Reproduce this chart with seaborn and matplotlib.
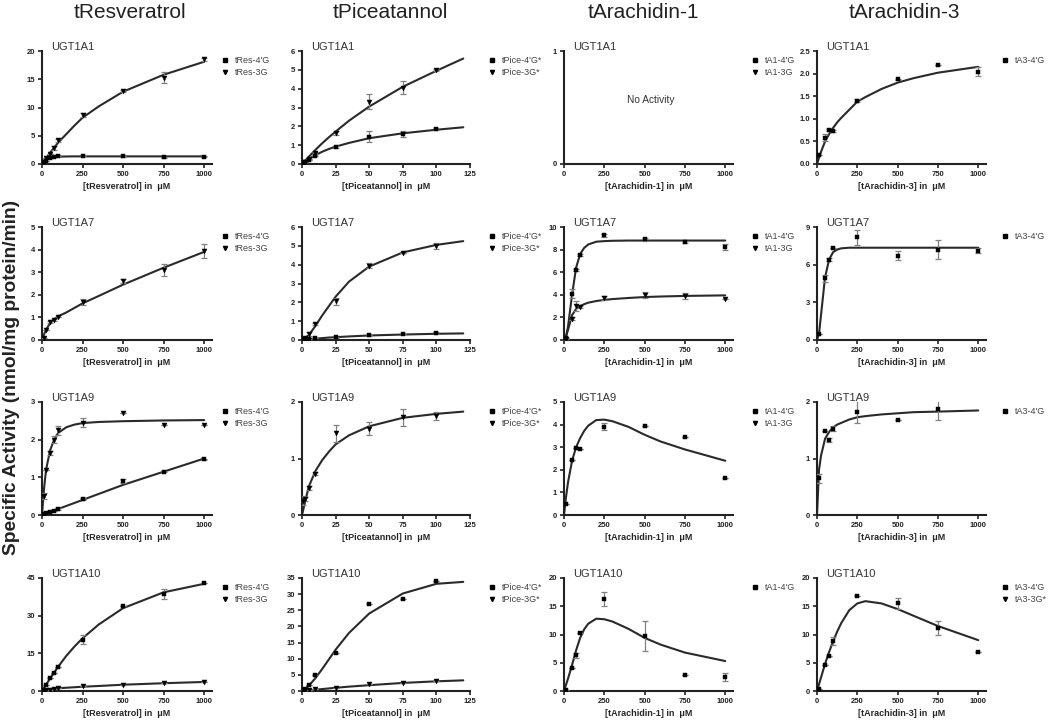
import numpy as np
import seaborn as sns
import matplotlib.pyplot as plt
from matplotlib.lines import Line2D

sns.set_style("ticks")
plt.rcParams['font.family'] = ['Liberation Sans', 'DejaVu Sans']

# substrate concentrations (uM)
res_x = [10, 25, 50, 75, 100, 250, 500, 750, 1000]
pice_x = [1, 2.5, 5, 10, 25, 50, 75, 100]
ara_x = [10, 50, 75, 100, 250, 500, 750, 1000]

res_cx = [0, 12.5, 25, 50, 75, 100, 150, 200, 250, 350, 500, 750, 1000]
pice_cx = [0, 5, 10, 15, 20, 25, 35, 50, 75, 100, 120]
ara_cx = [0, 12.5, 25, 50, 75, 100, 125, 150, 200, 250, 300, 400, 500, 600, 750, 1000]

# ---- tResveratrol ----
res_1a1_4g = [0.3, 0.6, 1.0, 1.3, 1.5, 1.5, 1.4, 1.2, 1.3]
res_1a1_4g_err = [0, 0, 0, 0, 0.1, 0.1, 0.1, 0.1, 0.1]
res_1a1_4g_fit = [0, 0.5, 0.8, 1.1, 1.25, 1.3, 1.33, 1.35, 1.35, 1.35, 1.35, 1.35, 1.35]
res_1a1_3g = [0.4, 1.0, 1.8, 2.8, 4.2, 8.7, 12.9, 15.3, 18.5]
res_1a1_3g_err = [0, 0, 0, 0.3, 0.3, 0.3, 0.2, 1.0, 0.3]
res_1a1_3g_fit = [0, 0.5, 1.0, 2.0, 2.9, 3.8, 5.3, 6.8, 8.2, 10.2, 12.8, 15.8, 18.1]

res_1a7_3g = [0.1, 0.45, 0.8, 0.88, 1.0, 1.68, 2.6, 3.1, 3.95]
res_1a7_3g_err = [0, 0, 0.05, 0.05, 0, 0.12, 0.08, 0.25, 0.3]
res_1a7_3g_fit = [0, 0.25, 0.45, 0.75, 0.92, 1.05, 1.22, 1.42, 1.62, 1.95, 2.45, 3.2, 3.9]

res_1a9_4g = [0.02, 0.04, 0.07, 0.1, 0.15, 0.42, 0.9, 1.15, 1.48]
res_1a9_4g_err = [0, 0, 0, 0, 0.03, 0.02, 0.05, 0.02, 0.02]
res_1a9_4g_fit = [0, 0.02, 0.04, 0.08, 0.12, 0.16, 0.24, 0.32, 0.4, 0.56, 0.8, 1.15, 1.5]
res_1a9_3g = [0.5, 1.2, 1.65, 2.0, 2.25, 2.45, 2.7, 2.4, 2.38]
res_1a9_3g_err = [0.08, 0, 0.05, 0.1, 0.12, 0.12, 0, 0, 0]
res_1a9_3g_fit = [0, 0.7, 1.2, 1.72, 2.0, 2.18, 2.33, 2.4, 2.44, 2.47, 2.49, 2.51, 2.52]

res_1a10_4g = [0.5, 2.4, 5.0, 7.2, 9.5, 20.5, 34.0, 38.5, 43.0]
res_1a10_4g_err = [0, 0, 0, 0, 0, 1.8, 0, 2.0, 0]
res_1a10_4g_fit = [0, 1.25, 2.5, 5.0, 7.4, 9.7, 14.0, 17.7, 21.0, 26.5, 33.0, 39.3, 42.7]
res_1a10_3g = [0.1, 0.3, 0.5, 0.7, 1.0, 1.8, 2.5, 3.0, 3.5]
res_1a10_3g_err = [0, 0, 0, 0, 0, 0, 0, 0, 0]
res_1a10_3g_fit = [0, 0.3, 0.5, 0.8, 0.95, 1.1, 1.3, 1.5, 1.7, 2.0, 2.5, 3.1, 3.6]

# ---- tPiceatannol ----
pice_1a1_4g = [0.05, 0.1, 0.2, 0.45, 0.9, 1.45, 1.6, 1.85]
pice_1a1_4g_err = [0, 0, 0, 0, 0.05, 0.3, 0.15, 0.05]
pice_1a1_4g_fit = [0, 0.25, 0.47, 0.65, 0.8, 0.92, 1.12, 1.37, 1.63, 1.82, 1.95]
pice_1a1_3g = [0.05, 0.1, 0.25, 0.6, 1.65, 3.3, 4.05, 5.0]
pice_1a1_3g_err = [0, 0, 0, 0.05, 0.1, 0.4, 0.35, 0.05]
pice_1a1_3g_fit = [0, 0.38, 0.75, 1.1, 1.42, 1.72, 2.3, 3.05, 4.1, 4.95, 5.6]

pice_1a7_4g = [0.02, 0.03, 0.05, 0.08, 0.15, 0.25, 0.3, 0.35]
pice_1a7_4g_err = [0, 0, 0, 0, 0.03, 0.03, 0, 0.05]
pice_1a7_4g_fit = [0, 0.04, 0.07, 0.1, 0.13, 0.15, 0.19, 0.24, 0.29, 0.33, 0.35]
pice_1a7_3g = [0.05, 0.1, 0.3, 0.85, 2.05, 3.95, 4.6, 5.0]
pice_1a7_3g_err = [0, 0, 0.1, 0.05, 0.2, 0.15, 0, 0.15]
pice_1a7_3g_fit = [0, 0.25, 0.75, 1.3, 1.8, 2.3, 3.1, 3.9, 4.65, 5.05, 5.25]

pice_1a9_3g = [0.25, 0.28, 0.48, 0.73, 1.45, 1.53, 1.73, 1.75]
pice_1a9_3g_err = [0.08, 0.04, 0.04, 0.03, 0.15, 0.12, 0.15, 0.07]
pice_1a9_3g_fit = [0, 0.5, 0.78, 0.97, 1.12, 1.25, 1.41, 1.57, 1.72, 1.79, 1.83]

pice_1a10_4g = [0.2, 0.5, 2.0, 5.0, 11.7, 27.0, 28.5, 34.0]
pice_1a10_4g_err = [0, 0, 0, 0, 0, 0, 0, 0]
pice_1a10_4g_fit = [0, 1.6, 4.0, 6.8, 9.8, 12.8, 18.0, 24.0, 30.2, 33.2, 33.8]
pice_1a10_3g = [0.1, 0.2, 0.3, 0.6, 1.0, 2.2, 2.4, 3.0]
pice_1a10_3g_err = [0, 0, 0, 0, 0, 0, 0, 0]
pice_1a10_3g_fit = [0, 0.2, 0.4, 0.6, 0.8, 1.0, 1.35, 1.8, 2.5, 3.0, 3.3]

# ---- tArachidin-1 ----
a1_1a7_4g = [0.2, 4.1, 6.2, 7.5, 9.25, 8.9, 8.7, 8.25]
a1_1a7_4g_err = [0, 0.4, 0.1, 0.1, 0.15, 0.1, 0.1, 0.25]
a1_1a7_4g_fit = [0, 0.3, 1.2, 4.0, 6.4, 7.6, 8.15, 8.45, 8.7, 8.75, 8.78, 8.8, 8.8, 8.8, 8.8, 8.8]
a1_1a7_3g = [0.1, 1.9, 3.0, 2.9, 3.7, 4.0, 3.9, 3.6]
a1_1a7_3g_err = [0, 0.15, 0.45, 0.1, 0.15, 0.25, 0.3, 0]
a1_1a7_3g_fit = [0, 0.3, 0.9, 2.2, 2.75, 3.0, 3.17, 3.3, 3.45, 3.55, 3.62, 3.72, 3.8, 3.85, 3.9, 3.95]

a1_1a9_4g = [0.5, 2.45, 2.95, 2.9, 3.9, 3.95, 3.45, 1.65]
a1_1a9_4g_err = [0, 0, 0, 0, 0.15, 0, 0, 0]
a1_1a9_4g_fit = [0, 0.8, 1.45, 2.4, 3.0, 3.4, 3.72, 3.95, 4.2, 4.22, 4.15, 3.9, 3.55, 3.25, 2.9, 2.4]

a1_1a10_4g = [0.2, 4.0, 6.3, 10.3, 16.3, 9.7, 2.8, 2.5]
a1_1a10_4g_err = [0, 0, 0.4, 0, 1.2, 2.7, 0, 0.7]
a1_1a10_4g_fit = [0, 1.1, 2.2, 4.6, 7.2, 9.4, 10.9, 11.9, 12.8, 12.7, 12.3, 11.0, 9.4, 8.2, 6.8, 5.3]

# ---- tArachidin-3 ----
a3_1a1_4g = [0.2, 0.58, 0.75, 0.73, 1.4, 1.87, 2.2, 2.04]
a3_1a1_4g_err = [0, 0.08, 0.03, 0.03, 0.03, 0.02, 0, 0.1]
a3_1a1_4g_fit = [0, 0.14, 0.27, 0.5, 0.66, 0.8, 0.92, 1.02, 1.2, 1.38, 1.48, 1.66, 1.8, 1.9, 2.02, 2.15]

a3_1a7_4g = [0.5, 4.9, 6.4, 7.3, 8.2, 6.7, 7.2, 7.1]
a3_1a7_4g_err = [0, 0.3, 0.1, 0, 0.6, 0.35, 0.75, 0.2]
a3_1a7_4g_fit = [0, 0.5, 2.0, 5.0, 6.4, 7.0, 7.2, 7.3, 7.35, 7.35, 7.35, 7.35, 7.35, 7.35, 7.35, 7.35]

a3_1a9_4g = [0.65, 1.48, 1.33, 1.53, 1.83, 1.68, 1.88]
a3_1a9_4g_err = [0.08, 0, 0.04, 0.04, 0.2, 0, 0.2]
a3_1a9_4g_fit = [0, 0.8, 1.05, 1.35, 1.47, 1.55, 1.6, 1.63, 1.69, 1.73, 1.75, 1.78, 1.8, 1.82, 1.83, 1.85]

a3_1a10_4g = [0.3, 4.6, 6.2, 8.8, 16.8, 15.5, 11.2, 6.9]
a3_1a10_4g_err = [0, 0, 0, 0.7, 0, 1.0, 1.2, 0]
a3_1a10_4g_fit = [0, 1.2, 2.4, 4.8, 6.9, 8.8, 10.5, 12.0, 14.3, 15.5, 15.9, 15.5, 14.5, 13.3, 11.5, 9.0]

compounds = ['tResveratrol', 'tPiceatannol', 'tArachidin-1', 'tArachidin-3']
enzymes = ['UGT1A1', 'UGT1A7', 'UGT1A9', 'UGT1A10']
title_x = [130, 390, 643, 904]

# layout in pixels (figure is 1050 x 720)
col_left = [42, 302, 564, 817]
col_width = [170, 168, 169, 169]
row_top = [51, 227, 402, 578]
ax_h = 113
legend_x = [221, 488, 751, 1001]

LINE = '#2a2a2a'
ERR = '#808080'

fig = plt.figure(figsize=(10.5, 7.2), dpi=100)


def panel(ax, cx, series):
    # series: list of (px, py, err, fit, marker)
    for px, py, pe, fit, mk in series:
        sns.lineplot(x=cx, y=fit, ax=ax, color=LINE, lw=1.5)
        ax.errorbar(px[:len(py)], py, yerr=pe, fmt='none', ecolor=ERR,
                    elinewidth=0.9, capsize=2.5, capthick=0.9, zorder=3)
        sns.scatterplot(x=px[:len(py)], y=py, ax=ax, marker=mk,
                        s=9 if mk == 's' else 13,
                        color='black', edgecolor='black', linewidth=0.3, zorder=4)


def style(ax, r, c, xlim, xticks, ylim, yticks, xlabel, legend):
    ax.set_xlim(*xlim)
    ax.set_ylim(*ylim)
    ax.set_xticks(xticks)
    ax.set_yticks(yticks)
    sns.despine(ax=ax)
    for s in ['left', 'bottom']:
        ax.spines[s].set_linewidth(1.5)
        ax.spines[s].set_color('#222222')
    ax.tick_params(length=3, width=1.2, labelsize=5.5, pad=2, colors='#222222')
    for lab in ax.get_xticklabels() + ax.get_yticklabels():
        lab.set_fontweight('bold')
    ax.set_xlabel(xlabel, fontsize=6.5, fontweight='bold', labelpad=3)
    ax.set_ylabel('')
    ax.text(0.056, 1.008, enzymes[r], transform=ax.transAxes, fontsize=8,
            va='baseline', ha='left', color='#333333')
    handles = [Line2D([], [], ls='none', marker='s' if "4'G" in l else 'v',
                      color='black', markersize=3) for l in legend]
    ax.legend(handles, legend, loc='upper left',
              bbox_to_anchor=(legend_x[c] / 1050, 1 - (row_top[r] + 5) / 720),
              bbox_transform=fig.transFigure, borderaxespad=0, borderpad=0,
              frameon=False, fontsize=6.5, handlelength=0.8, handletextpad=0.7,
              labelspacing=0.3, labelcolor='#444444')


res_xlim, res_xt = (0, 1048), [0, 250, 500, 750, 1000]
pice_xlim, pice_xt = (0, 125), [0, 25, 50, 75, 100, 125]

axes = [[None] * 4 for _ in range(4)]
for r in range(4):
    for c in range(4):
        l = col_left[c] / 1050
        b = 1 - (row_top[r] + ax_h) / 720
        axes[r][c] = fig.add_axes([l, b, col_width[c] / 1050, ax_h / 720])

res_lab = '[tResveratrol] in  \u03bcM'
pice_lab = '[tPiceatannol] in  \u03bcM'
a1_lab = '[tArachidin-1] in  \u03bcM'
a3_lab = '[tArachidin-3] in  \u03bcM'
res_leg = ["tRes-4'G", 'tRes-3G']
pice_leg = ["tPice-4'G*", 'tPice-3G*']
a1_leg = ["tA1-4'G", 'tA1-3G']
a3_leg = ["tA3-4'G"]

# tResveratrol column
panel(axes[0][0], res_cx, [(res_x, res_1a1_4g, res_1a1_4g_err, res_1a1_4g_fit, 's'),
                           (res_x, res_1a1_3g, res_1a1_3g_err, res_1a1_3g_fit, 'v')])
style(axes[0][0], 0, 0, res_xlim, res_xt, (0, 20), [0, 5, 10, 15, 20], res_lab, res_leg)
panel(axes[1][0], res_cx, [(res_x, res_1a7_3g, res_1a7_3g_err, res_1a7_3g_fit, 'v')])
style(axes[1][0], 1, 0, res_xlim, res_xt, (0, 5), [0, 1, 2, 3, 4, 5], res_lab, res_leg)
panel(axes[2][0], res_cx, [(res_x, res_1a9_4g, res_1a9_4g_err, res_1a9_4g_fit, 's'),
                           (res_x, res_1a9_3g, res_1a9_3g_err, res_1a9_3g_fit, 'v')])
style(axes[2][0], 2, 0, res_xlim, res_xt, (0, 3), [0, 1, 2, 3], res_lab, res_leg)
panel(axes[3][0], res_cx, [(res_x, res_1a10_4g, res_1a10_4g_err, res_1a10_4g_fit, 's'),
                           (res_x, res_1a10_3g, res_1a10_3g_err, res_1a10_3g_fit, 'v')])
style(axes[3][0], 3, 0, res_xlim, res_xt, (0, 45), [0, 15, 30, 45], res_lab, res_leg)

# tPiceatannol column
panel(axes[0][1], pice_cx, [(pice_x, pice_1a1_4g, pice_1a1_4g_err, pice_1a1_4g_fit, 's'),
                            (pice_x, pice_1a1_3g, pice_1a1_3g_err, pice_1a1_3g_fit, 'v')])
style(axes[0][1], 0, 1, pice_xlim, pice_xt, (0, 6), list(range(7)), pice_lab, pice_leg)
panel(axes[1][1], pice_cx, [(pice_x, pice_1a7_4g, pice_1a7_4g_err, pice_1a7_4g_fit, 's'),
                            (pice_x, pice_1a7_3g, pice_1a7_3g_err, pice_1a7_3g_fit, 'v')])
style(axes[1][1], 1, 1, pice_xlim, pice_xt, (0, 6), list(range(7)), pice_lab, pice_leg)
panel(axes[2][1], pice_cx, [(pice_x, pice_1a9_3g, pice_1a9_3g_err, pice_1a9_3g_fit, 'v')])
style(axes[2][1], 2, 1, pice_xlim, pice_xt, (0, 2), [0, 1, 2], pice_lab, pice_leg)
panel(axes[3][1], pice_cx, [(pice_x, pice_1a10_4g, pice_1a10_4g_err, pice_1a10_4g_fit, 's'),
                            (pice_x, pice_1a10_3g, pice_1a10_3g_err, pice_1a10_3g_fit, 'v')])
style(axes[3][1], 3, 1, pice_xlim, pice_xt, (0, 35), list(range(0, 36, 5)), pice_lab, pice_leg)

# tArachidin-1 column
style(axes[0][2], 0, 2, res_xlim, res_xt, (0, 1), [0, 1], a1_lab, a1_leg)
axes[0][2].text(536, 0.57, 'No Activity', fontsize=7.3, ha='center', va='center', color='#333333')
panel(axes[1][2], ara_cx, [(ara_x, a1_1a7_4g, a1_1a7_4g_err, a1_1a7_4g_fit, 's'),
                           (ara_x, a1_1a7_3g, a1_1a7_3g_err, a1_1a7_3g_fit, 'v')])
style(axes[1][2], 1, 2, res_xlim, res_xt, (0, 10), [0, 2, 4, 6, 8, 10], a1_lab, a1_leg)
panel(axes[2][2], ara_cx, [(ara_x, a1_1a9_4g, a1_1a9_4g_err, a1_1a9_4g_fit, 's')])
style(axes[2][2], 2, 2, res_xlim, res_xt, (0, 5), [0, 1, 2, 3, 4, 5], a1_lab, a1_leg)
panel(axes[3][2], ara_cx, [(ara_x, a1_1a10_4g, a1_1a10_4g_err, a1_1a10_4g_fit, 's')])
style(axes[3][2], 3, 2, res_xlim, res_xt, (0, 20), [0, 5, 10, 15, 20], a1_lab, ["tA1-4'G"])

# tArachidin-3 column
panel(axes[0][3], ara_cx, [(ara_x, a3_1a1_4g, a3_1a1_4g_err, a3_1a1_4g_fit, 's')])
axes[0][3].yaxis.set_major_formatter(plt.FormatStrFormatter('%.1f'))
style(axes[0][3], 0, 3, res_xlim, res_xt, (0, 2.5), [0, 0.5, 1, 1.5, 2, 2.5], a3_lab, a3_leg)
panel(axes[1][3], ara_cx, [(ara_x, a3_1a7_4g, a3_1a7_4g_err, a3_1a7_4g_fit, 's')])
style(axes[1][3], 1, 3, res_xlim, res_xt, (0, 9), [0, 3, 6, 9], a3_lab, a3_leg)
panel(axes[2][3], ara_cx, [(ara_x, a3_1a9_4g, a3_1a9_4g_err, a3_1a9_4g_fit, 's')])
style(axes[2][3], 2, 3, res_xlim, res_xt, (0, 2), [0, 1, 2], a3_lab, a3_leg)
panel(axes[3][3], ara_cx, [(ara_x, a3_1a10_4g, a3_1a10_4g_err, a3_1a10_4g_fit, 's')])
style(axes[3][3], 3, 3, res_xlim, res_xt, (0, 20), [0, 5, 10, 15, 20], a3_lab, ["tA3-4'G", 'tA3-3G*'])

for c in range(4):
    fig.text(title_x[c] / 1050, 1 - 12 / 720, compounds[c], fontsize=15,
             ha='center', va='center', color='#222222')

fig.text(12 / 1050, 1 - 377 / 720, 'Specific Activity (nmol/mg protein/min)', rotation=90,
         fontsize=13.8, fontweight='bold', ha='center', va='center', color='#222222')

fig.savefig('out.png', dpi=100)
